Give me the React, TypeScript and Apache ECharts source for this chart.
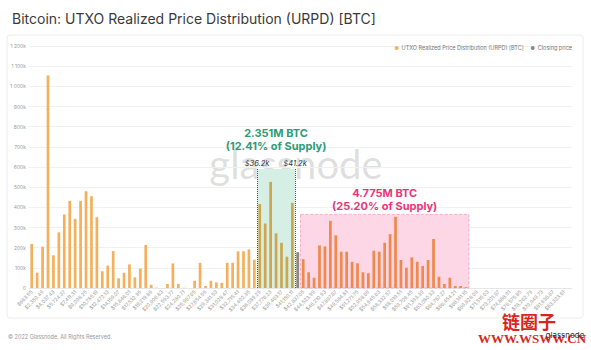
import React, { useEffect, useRef } from 'react';
import * as echarts from 'echarts';

// Bucket lower-bound prices (USD), one per category
const bucketPrices = [
  663.55, 1507.02, 2350.49, 3193.96, 4037.43, 4880.9, 5724.37, 6567.84, 7411.31, 8254.78,
  9098.25, 9941.72, 10785.19, 11628.66, 12472.13, 13315.6, 14159.07, 15002.54, 15846.01, 16689.48,
  17532.95, 18376.42, 19219.89, 20063.36, 20906.83, 21750.3, 22593.77, 23437.24, 24280.71, 25124.18,
  25967.65, 26811.12, 27654.59, 28498.06, 29341.53, 30185.0, 31028.47, 31871.94, 32715.41, 33558.88,
  34402.35, 35245.82, 36089.29, 36932.76, 37776.23, 38619.7, 39463.17, 40306.64, 41150.11, 41993.58,
  42837.05, 43680.52, 44523.99, 45367.46, 46210.93, 47054.4, 47897.87, 48741.34, 49584.81, 50428.28,
  51271.75, 52115.22, 52958.69, 53802.16, 54645.63, 55489.1, 56332.57, 57176.04, 58019.51, 58862.98,
  59706.45, 60549.92, 61393.39, 62236.86, 63080.33, 63923.8, 64767.27, 65610.74, 66454.21, 67297.68,
  68141.15, 68984.62, 69828.09, 70671.56, 71515.03, 72358.5, 73201.97, 74045.44, 74888.91, 75732.38,
  76575.85, 77419.32, 78262.79, 79106.26, 79949.73, 80793.2, 81636.67, 82480.14, 83323.61, 84167.08,
];

// UTXO supply per bucket (thousand BTC)
const urpdValues = [
  218, 76, 205, 1054, 162, 276, 365, 432, 343, 432,
  480, 455, 351, 83, 111, 183, 48, 76, 117, 53,
  96, 213, 16, 2, 0, 20, 122, 20, 1, 0,
  36, 125, 10, 36, 28, 25, 125, 125, 182, 182,
  191, 140, 416, 320, 526, 271, 224, 155, 422, 177,
  143, 78, 51, 211, 206, 333, 261, 180, 180, 130,
  122, 78, 73, 185, 180, 224, 267, 353, 139, 101,
  152, 130, 109, 139, 243, 56, 20, 51, 10, 10,
  4, 0, 0, 0, 0, 0, 0, 0, 0, 0,
  0, 0, 0, 0, 0, 0, 0, 0, 0, 0,
];

const closingPriceIndex = 49;

const greenZone = [42, 49]; // bucket edges
const greenZoneTop = 590;
const greenZoneText = '2.351M BTC\n(12.41% of Supply)';
const greenEdgeLabels = ['$36.2k', '$41.2k'];

const pinkZone = [50, 81];
const pinkZoneTop = 365;
const pinkZoneText = '4.775M BTC\n(25.20% of Supply)';

const seriesNames = ['UTXO Realized Price Distribution (URPD) [BTC]', 'Closing price'];

const FONT = 'Inter, "Noto Sans", sans-serif';

export default function App() {
  const ref = useRef<HTMLDivElement>(null);

  useEffect(() => {
    if (!ref.current) return;
    const chart = echarts.init(ref.current, null, { renderer: 'svg' });

    const barColor = (i: number) => {
      if (i >= greenZone[0] && i < greenZone[1]) return '#cda64f';
      if (i >= pinkZone[0] && i < pinkZone[1]) return '#f0894c';
      return '#f4b05c';
    };

    const option: any = {
      animation: false,
      backgroundColor: '#ffffff',
      textStyle: { fontFamily: FONT },
      title: {
        text: 'Bitcoin: UTXO Realized Price Distribution (URPD) [BTC]',
        left: 7,
        top: 6,
        textStyle: { fontSize: 14, fontWeight: 'normal', color: '#3a3a3a', fontFamily: FONT },
      },
      legend: {
        data: seriesNames,
        right: 14,
        top: 40,
        icon: 'circle',
        itemWidth: 4,
        itemHeight: 4,
        itemGap: 7,
        textStyle: { fontSize: 5.5, color: '#777', fontFamily: FONT, padding: [0, 0, 0, -2] },
      },
      grid: { left: 29, right: 19, top: 46, bottom: 62 },
      xAxis: [
        {
          type: 'category',
          data: bucketPrices.map(String),
          boundaryGap: true,
          axisTick: { show: false },
          axisLine: { lineStyle: { color: '#e6e6e6' } },
          axisLabel: {
            interval: 1,
            rotate: 45,
            fontSize: 5,
            color: '#9a9a9a',
            margin: 3,
            formatter: (v: string) =>
              '$' + Number(v).toLocaleString('en-US', { minimumFractionDigits: 2, maximumFractionDigits: 2 }),
          },
        },
        { type: 'value', min: 0, max: bucketPrices.length, show: false },
      ],
      yAxis: {
        type: 'value',
        min: 0,
        max: 1200,
        interval: 100,
        axisLine: { show: false },
        axisTick: { show: false },
        splitLine: { lineStyle: { color: '#f0f0f0' } },
        axisLabel: {
          fontSize: 5,
          color: '#9a9a9a',
          margin: 3,
          formatter: (v: number) =>
            v === 0 ? '0' : (v >= 1000 ? Math.floor(v / 1000) + ' ' + String(v % 1000).padStart(3, '0') : String(v)) + 'k',
        },
      },
      series: [
        {
          name: 'zones',
          type: 'line',
          xAxisIndex: 1,
          data: [],
          z: 1,
          silent: true,
          markArea: {
            silent: true,
            data: [
              [
                {
                  xAxis: greenZone[0],
                  yAxis: greenZoneTop,
                  itemStyle: { color: '#d5efe5' },
                  label: {
                    show: true,
                    position: 'top',
                    distance: 17,
                    formatter: greenZoneText,
                    color: '#2f9c76',
                    fontSize: 11,
                    fontWeight: 'bold',
                    lineHeight: 13,
                    fontFamily: FONT,
                  },
                },
                { xAxis: greenZone[1], yAxis: 0 },
              ],
              [
                {
                  xAxis: pinkZone[0],
                  yAxis: pinkZoneTop,
                  itemStyle: { color: '#fdd7e5', borderColor: '#f5a0c0', borderWidth: 0.8, borderType: 'dashed' },
                  label: {
                    show: true,
                    position: 'top',
                    distance: 2,
                    formatter: pinkZoneText,
                    color: '#e8367b',
                    fontSize: 11,
                    fontWeight: 'bold',
                    lineHeight: 12.5,
                    fontFamily: FONT,
                  },
                },
                { xAxis: pinkZone[1], yAxis: 0 },
              ],
            ],
          },
          markLine: {
            silent: true,
            symbol: 'none',
            lineStyle: { color: '#555', type: 'dotted', width: 1 },
            label: {
              show: true,
              position: 'end',
              distance: 2,
              fontSize: 7.5,
              fontStyle: 'italic',
              color: '#333',
              fontFamily: FONT,
            },
            data: greenZone.map((edge, k) => [
              { xAxis: edge, yAxis: 0, label: { formatter: greenEdgeLabels[k] } },
              { xAxis: edge, yAxis: greenZoneTop },
            ]),
          },
        },
        {
          name: seriesNames[0],
          type: 'bar',
          data: urpdValues.map((v, i) => ({ value: v, itemStyle: { color: barColor(i) } })),
          barWidth: '50%',
          barGap: '-100%',
          itemStyle: { color: '#f4b05c' },
          z: 2,
        },
        {
          name: seriesNames[1],
          type: 'bar',
          data: urpdValues.map((v, i) => (i === closingPriceIndex ? v : null)),
          barWidth: '50%',
          barGap: '-100%',
          itemStyle: { color: '#8a8a8a' },
          z: 3,
        },
      ],
      graphic: [
        {
          type: 'rect',
          shape: { x: 7, y: 35, width: 576, height: 283, r: 3 },
          style: { fill: 'none', stroke: '#ececec', lineWidth: 1 },
          z: 0,
          silent: true,
        },
        {
          type: 'text',
          x: 296,
          y: 164,
          z: 0,
          silent: true,
          style: {
            text: 'glassnode',
            fontSize: 40,
            fontFamily: 'Lato, "Noto Sans", sans-serif',
            fill: 'rgba(110,110,110,0.22)',
            textAlign: 'center',
            textVerticalAlign: 'middle',
          },
        },
        {
          type: 'text',
          x: 8,
          y: 337,
          silent: true,
          style: {
            text: '© 2022 Glassnode. All Rights Reserved.',
            fontSize: 5.5,
            fontFamily: FONT,
            fill: '#999',
            textVerticalAlign: 'middle',
          },
        },
        {
          type: 'text',
          x: 529,
          y: 321,
          z: 100,
          silent: true,
          style: {
            text: '链圈子',
            fontSize: 18,
            fontWeight: 'bold',
            fontFamily: '"Noto Sans CJK SC", sans-serif',
            fill: '#d8261c',
            textAlign: 'center',
            textVerticalAlign: 'middle',
          },
        },
        {
          type: 'text',
          x: 532,
          y: 338,
          z: 100,
          silent: true,
          style: {
            text: 'WWW.WSWW.CN',
            fontSize: 13,
            fontWeight: 'bold',
            fontFamily: '"Liberation Serif", serif',
            fill: '#d8261c',
            textAlign: 'center',
            textVerticalAlign: 'middle',
          },
        },
        {
          type: 'text',
          x: 565,
          y: 335,
          z: 101,
          silent: true,
          style: {
            text: 'glassnode',
            fontSize: 8,
            fontFamily: FONT,
            fill: '#333',
            textAlign: 'center',
            textVerticalAlign: 'middle',
          },
        },
      ],
    };

    chart.setOption(option);
    return () => chart.dispose();
  }, []);

  return (
    <div
      ref={ref}
      style={{ position: 'fixed', left: 0, top: 0, width: 591, height: 350, background: '#fff' }}
    />
  );
}
